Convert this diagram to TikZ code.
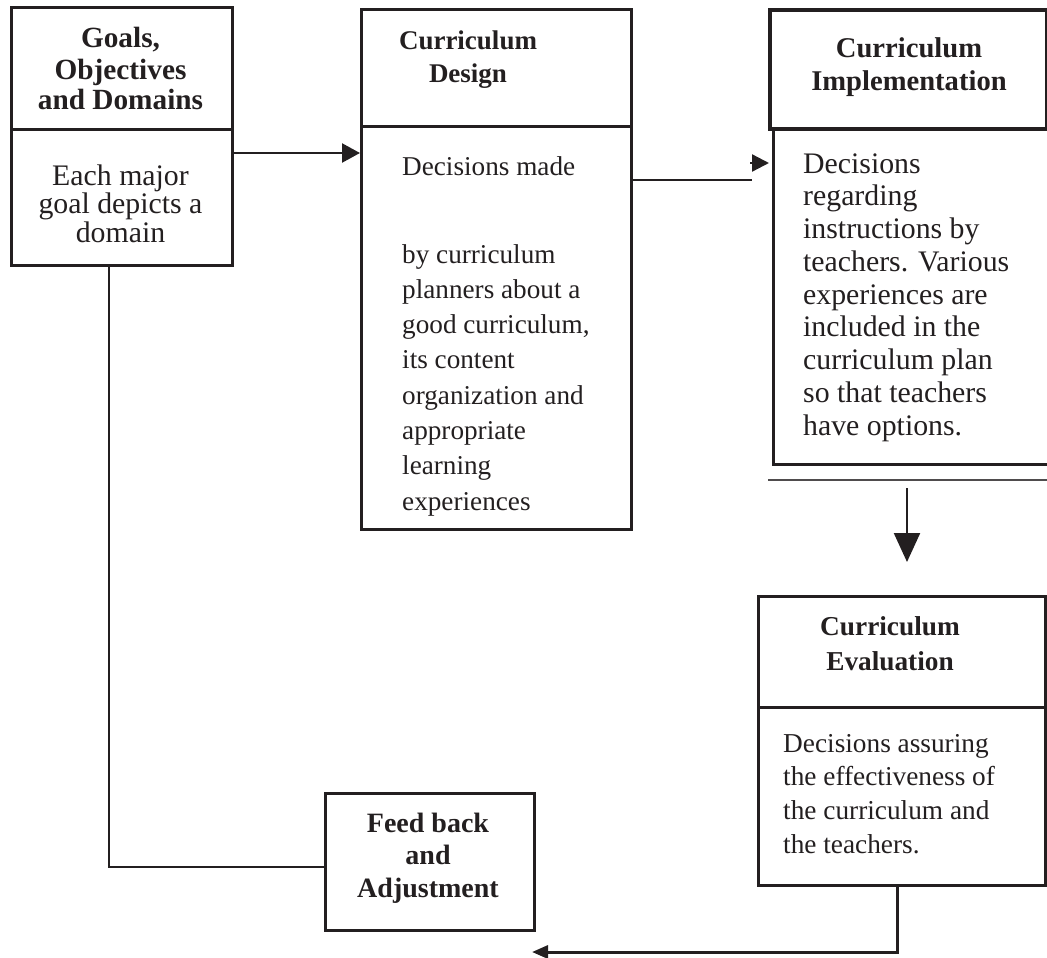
\documentclass[tikz,border=0pt]{standalone}
\usepackage{fontspec}
\setmainfont{Liberation Serif}
\usetikzlibrary{arrows.meta}
\definecolor{ink}{RGB}{35,31,32}
\begin{document}
\begin{tikzpicture}[x=1pt,y=-1pt,
  box/.style={draw=ink, line width=3pt, inner sep=0pt, anchor=north west},
  link/.style={draw=ink, line width=2.3pt},
  hd/.style={text=ink, inner sep=0pt, anchor=base, font=\bfseries\fontsize{#1}{#1}\selectfont},
  tx/.style={text=ink, inner sep=0pt, anchor=base west, font=\fontsize{#1}{#1}\selectfont},
  txc/.style={text=ink, inner sep=0pt, anchor=base, font=\fontsize{#1}{#1}\selectfont},
  smalltip/.style={-{Triangle[length=18pt,width=19pt]}},
]
\useasboundingbox (0,0) rectangle (1047,958);

% --- boxes ---
\node[box, minimum width=221pt, minimum height=122pt] (goalsHead) at (10,6) {};
\node[box, minimum width=221pt, minimum height=136pt] (goalsBody) at (10,128) {};
\node[box, minimum width=270pt, minimum height=117pt] (designHead) at (360,8) {};
\node[box, minimum width=270pt, minimum height=403pt] (designBody) at (360,125) {};
\node[box, line width=4pt, minimum width=277pt, minimum height=119pt] (implHead) at (768,8) {};
\node[box, minimum width=300pt, minimum height=336pt] (implBody) at (772,127) {};
\node[box, minimum width=287pt, minimum height=111pt] (evalHead) at (757,595) {};
\node[box, minimum width=287pt, minimum height=178pt] (evalBody) at (757,706) {};
\node[box, line width=2.6pt, minimum width=209pt, minimum height=137pt] (feedBox) at (324,792) {};

% --- headings ---
\foreach \t [count=\i from 0] in {{Goals,}, Objectives, and Domains}
  \node[hd=29.3] (goalsH\i) at (120.5,48+31*\i) {\t};
\foreach \t [count=\i from 0] in {Curriculum, Design}
  \node[hd=27] (designH\i) at (468,50+33*\i) {\t};
\foreach \t [count=\i from 0] in {Curriculum, Implementation}
  \node[hd=28.6] (implH\i) at (909,58+32*\i) {\t};
\foreach \t [count=\i from 0] in {Curriculum, Evaluation}
  \node[hd=27.3] (evalH\i) at (890,635+35*\i) {\t};
\foreach \t [count=\i from 0] in {Feed back, and, Adjustment}
  \node[hd=28] (feedH\i) at (428,832+32.5*\i) {\t};

% --- descriptions ---
\foreach \t [count=\i from 0] in {Each major, goal depicts a, domain}
  \node[txc=29.8] (goalsT\i) at (120.5,185+28.5*\i) {\t};
\node[tx=27.2] (designT) at (402,175) {Decisions made};
\foreach \t [count=\i from 0] in {by curriculum, planners about a, {good curriculum,},
    its content, organization and, appropriate, learning, experiences}
  \node[tx=27.2] (designT\i) at (402,263+35.3*\i) {\t};
\foreach \t [count=\i from 0] in {Decisions, regarding, instructions by, teachers. Various,
    experiences are, included in the, curriculum plan, so that teachers, have options.}
  \node[tx=29.8] (implT\i) at (803,173+32.75*\i) {\t};
\foreach \t [count=\i from 0] in {Decisions assuring, the effectiveness of,
    the curriculum and, the teachers.}
  \node[tx=27.3] (evalT\i) at (783,752+33.7*\i) {\t};

% --- connectors ---
\draw[link, smalltip] (goalsBody.east |- 0,153) -- (designBody.west |- 0,153);

\coordinate (designOut) at (752,180);
\draw[link] (designBody.east |- designOut) -- (designOut);
\draw[link, -{Triangle[length=17pt,width=17pt]}, shorten >=3pt] (750,163) -- (implBody.west |- 0,163);

\draw[draw=ink!80, line width=2pt] (768,480) -- (1050,480);
\coordinate (downStart) at (907,488);
\coordinate (downEnd) at (907,562);
\draw[link, -{Triangle[length=29pt,width=26pt]}] (downStart) -- (downEnd);

\coordinate (evalTurn) at (897,952);
\coordinate (feedIn) at (532,952);
\draw[link, line width=3pt, -{Triangle[length=16pt,width=13pt]}] (evalBody.south -| evalTurn) -- (evalTurn) -- (feedIn);

\coordinate (goalsTurn) at (109,867);
\draw[link, line width=2.6pt] (goalsBody.south -| goalsTurn) -- (goalsTurn) -- (feedBox.west |- goalsTurn);
\end{tikzpicture}
\end{document}
